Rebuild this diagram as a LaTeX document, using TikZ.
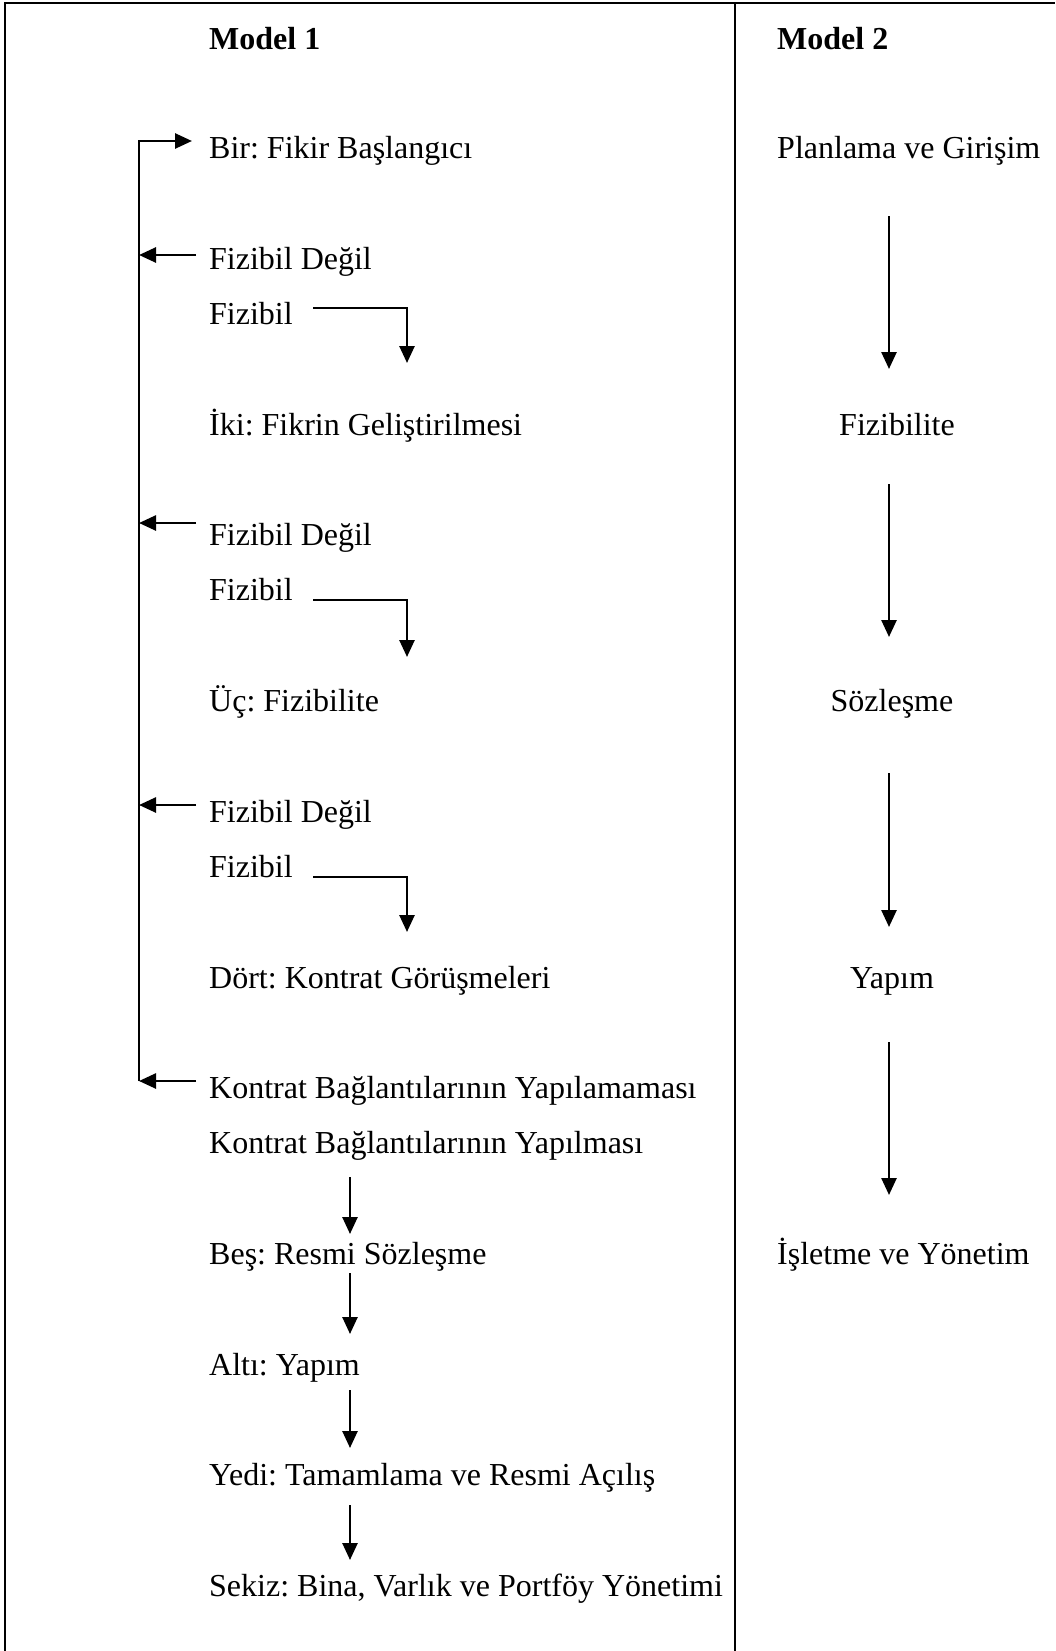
\documentclass[tikz,border=0pt]{standalone}
\usepackage{fontspec}
\setmainfont{Liberation Serif}
\usetikzlibrary{arrows.meta}
\frenchspacing
\begin{document}
\begin{tikzpicture}[x=1pt,y=-1pt,
  lbl/.style={anchor=base west,inner sep=0pt,font=\fontsize{32}{38}\selectfont},
  clbl/.style={lbl,anchor=base},
  hdr/.style={lbl,font=\fontsize{32}{38}\selectfont\bfseries},
  rule/.style={line width=2.4pt},
  conn/.style={line width=2.6pt},
  arr/.style={conn,-{Triangle[length=17pt,width=15pt]}}]
\useasboundingbox (0,0) rectangle (1055,1651);

% table frame and column divider
\draw[rule] (5,1651) -- (5,3) -- (1055,3);
\draw[rule] (735,3) -- (735,1651);

% ---- Model 1 ----
\node[hdr] (m1) at (209,50) {Model 1};
\node[lbl] (bir)   at (209,158.5)  {Bir: Fikir Başlangıcı};
\node[lbl] (fd1)   at (209,269.1)  {Fizibil Değil};
\node[lbl] (f1)    at (209,324.4)  {Fizibil};
\node[lbl] (iki)   at (209,435)    {İki: Fikrin Geliştirilmesi};
\node[lbl] (fd2)   at (209,545.6)  {Fizibil Değil};
\node[lbl] (f2)    at (209,600.9)  {Fizibil};
\node[lbl] (uc)    at (209,711.5)  {Üç: Fizibilite};
\node[lbl] (fd3)   at (209,822.1)  {Fizibil Değil};
\node[lbl] (f3)    at (209,877.4)  {Fizibil};
\node[lbl] (dort)  at (209,988)    {Dört: Kontrat Görüşmeleri};
\node[lbl] (kyn)   at (209,1098.6) {Kontrat Bağlantılarının Yapılamaması};
\node[lbl] (kyl)   at (209,1153.9) {Kontrat Bağlantılarının Yapılması};
\node[lbl] (bes)   at (209,1264.5) {Beş: Resmi Sözleşme};
\node[lbl] (alti)  at (209,1375.1) {Altı: Yapım};
\node[lbl] (yedi)  at (209,1485.7) {Yedi: Tamamlama ve Resmi Açılış};
\node[lbl] (sekiz) at (209,1596.3) {Sekiz: Bina, Varlık ve Portföy Yönetimi};

% feedback loop back to the first step
\coordinate (lpTop) at (139,141);
\coordinate (lpBot) at (139,1081);
\coordinate (birIn) at (192,141);
\draw[arr] (lpBot) -- (lpTop) -- (birIn);

\coordinate (fd1o) at (196,255);
\coordinate (fd2o) at (196,523);
\coordinate (fd3o) at (196,805);
\coordinate (kyno) at (196,1081);
\draw[arr] (fd1o) -- (lpTop |- fd1o);
\draw[arr] (fd2o) -- (lpTop |- fd2o);
\draw[arr] (fd3o) -- (lpTop |- fd3o);
\draw[arr] (kyno) -- (lpBot);

% feasible branches
\coordinate (f1a) at (313,308); \coordinate (f1b) at (407,308); \coordinate (f1c) at (407,363);
\coordinate (f2a) at (313,600); \coordinate (f2b) at (407,600); \coordinate (f2c) at (407,657);
\coordinate (f3a) at (313,877); \coordinate (f3b) at (407,877); \coordinate (f3c) at (407,932);
\draw[arr] (f1a) -- (f1b) -- (f1c);
\draw[arr] (f2a) -- (f2b) -- (f2c);
\draw[arr] (f3a) -- (f3b) -- (f3c);

% later steps
\coordinate (s1a) at (350,1177); \coordinate (s1b) at (350,1234);
\coordinate (s2a) at (350,1273); \coordinate (s2b) at (350,1334);
\coordinate (s3a) at (350,1390); \coordinate (s3b) at (350,1448);
\coordinate (s4a) at (350,1505); \coordinate (s4b) at (350,1560);
\draw[arr] (s1a) -- (s1b);
\draw[arr] (s2a) -- (s2b);
\draw[arr] (s3a) -- (s3b);
\draw[arr] (s4a) -- (s4b);

% ---- Model 2 ----
\node[hdr]  (m2)   at (777,50)     {Model 2};
\node[lbl]  (plan) at (777,158.5)  {Planlama ve Girişim};
\node[clbl] (fiz)  at (897,435)    {Fizibilite};
\node[clbl] (soz)  at (892,711.5)  {Sözleşme};
\node[clbl] (yap)  at (892,988)    {Yapım};
\node[lbl]  (isl)  at (777,1264.5) {İşletme ve Yönetim};

\coordinate (t1a) at (889,216);  \coordinate (t1b) at (889,369);
\coordinate (t2a) at (889,484);  \coordinate (t2b) at (889,637);
\coordinate (t3a) at (889,773);  \coordinate (t3b) at (889,927);
\coordinate (t4a) at (889,1042); \coordinate (t4b) at (889,1195);
\draw[arr] (t1a) -- (t1b);
\draw[arr] (t2a) -- (t2b);
\draw[arr] (t3a) -- (t3b);
\draw[arr] (t4a) -- (t4b);
\end{tikzpicture}
\end{document}
